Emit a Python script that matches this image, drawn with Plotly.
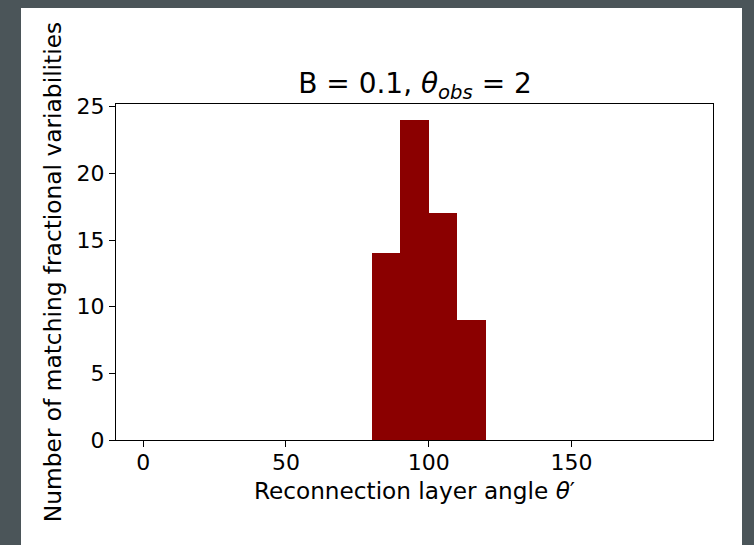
import plotly.graph_objects as go

# Histogram data (bin edges and counts)
bin_edges = list(range(0, 200, 10))  # 0 .. 190
counts = [0, 0, 0, 0, 0, 0, 0, 0, 14, 24, 17, 9, 0, 0, 0, 0, 0, 0, 0]
x_ticks = [0, 50, 100, 150]
y_ticks = [0, 5, 10, 15, 20, 25]

centers = [(bin_edges[i] + bin_edges[i + 1]) / 2 for i in range(len(counts))]
widths = [bin_edges[i + 1] - bin_edges[i] for i in range(len(counts))]

FONT = "DejaVu Sans"
BAR = "#8b0000"
GRAY = "#4b5559"

fig = go.Figure()
fig.add_trace(go.Bar(x=centers, y=counts, width=widths,
                     marker=dict(color=BAR, line=dict(width=0)),
                     showlegend=False, hoverinfo="skip"))

W, H = 754, 545
L, R, T, B = 116, 41, 104, 105
pw, ph = W - L - R, H - T - B

def px_x(p):
    return (p - L) / pw

def px_y(p):
    return (H - B - p) / ph

fig.add_shape(type="rect", xref="paper", yref="paper",
              x0=px_x(21), x1=px_x(742), y0=px_y(560), y1=px_y(8),
              fillcolor="white", line=dict(width=0), layer="below")

axis_common = dict(showline=True, linecolor="black", linewidth=1.2, mirror=True,
                   ticks="outside", ticklen=6, tickwidth=1.2, tickcolor="black",
                   showgrid=False, zeroline=False,
                   tickfont=dict(family=FONT, size=22, color="black"))

fig.update_layout(
    width=W, height=H,
    margin=dict(l=L, r=R, t=T, b=B, autoexpand=False),
    paper_bgcolor=GRAY, plot_bgcolor="white",
    bargap=0,
    title=dict(text="B = 0.1, <i>θ</i><sub><i>obs</i></sub> = 2",
               font=dict(family=FONT, size=28, color="black"),
               x=px_x(415), xanchor="center", xref="paper",
               y=1, yref="paper", yanchor="bottom", pad=dict(b=11)),
    xaxis=dict(range=[-9.5, 199.5], tickvals=x_ticks, ticklabelstandoff=-4,
               title=dict(text="Reconnection layer angle <i>θ</i>′",
                          font=dict(family=FONT, size=23.2, color="black"),
                          standoff=9),
               **axis_common),
    yaxis=dict(range=[0, 25.2], tickvals=y_ticks,
               title=dict(text="Number of matching fractional variabilities",
                          font=dict(family=FONT, size=23.3, color="black"),
                          standoff=8),
               **axis_common),
)

fig.write_html("out.html",
               config={"displayModeBar": False},
               post_script="document.body.style.margin='0';"
                           "document.body.style.background='" + GRAY + "';")
